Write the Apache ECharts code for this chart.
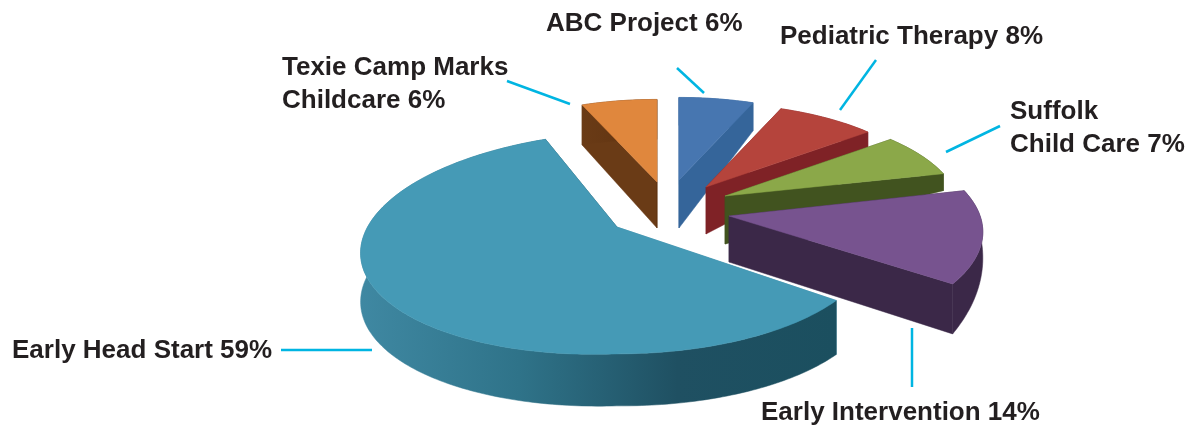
<!DOCTYPE html>
<html>
<head>
<meta charset="utf-8">
<style>html,body{margin:0;padding:0;background:#fff}#c{width:1202px;height:426px}</style>
<script src="https://cdn.jsdelivr.net/npm/echarts@6/dist/echarts.min.js"></script>
</head>
<body>
<div id="c"></div>
<script>
// Data, clockwise from the top of the pie
const categories = ['Texie Camp Marks\nChildcare', 'ABC Project', 'Pediatric Therapy', 'Suffolk\nChild Care', 'Early Intervention', 'Early Head Start'];
const values = [6, 6, 8, 7, 14, 59];

// Styling
const topColors = ['#E0873D', '#4776B0', '#B5443C', '#8BA849', '#77538F', '#459AB6'];
const wallColors = [['#6A3B16', '#5E3210'], ['#35659A', '#35659A'], ['#7F2226', '#7F2226'], ['#41531F', '#41531F'], ['#3B2848', '#3B2848'], ['#3F88A2', '#2F7389', '#1F5062', '#1B4F5F']];

// 3D projection settings
const center = [660, 205], rx = 259, ry = 112, perspective = 16, startAngle = -113;
const explodeX = [-3, 19, 46, 65, 69, -43];
const explodeY = [-23, -25, -18, -9, 11, 22];
const rotate = [0, 0, 0, 0, 0, 3];
const radiusScale = [0.88, 0.88, 0.89, 0.91, 0.98, 0.99];
const tilt = [0, 0, 0, 0, 0, -10];
const apexDepth = [46, 48, 47, 48, 46, 48];
const rimDepthStart = [40, 28, 18, 17, 6, 54];
const rimDepthEnd = [40, 28, 18, 17, 50, 46];

// Label layout: text anchor and leader line
const labelPos = [[282, 67], [546, 24], [780, 37], [1010, 111], [761, 413], [12, 351]];
const leaders = [[[507, 81], [570, 104]], [[677, 68], [704, 93]], [[876, 60], [840, 110]], [[1000, 126], [946, 152]], [[912, 328], [912, 387]], [[281, 350], [372, 350]]];
const labelFont = 'bold 26px "Liberation Sans", Arial, sans-serif';
const leaderColor = '#00B5E2';

const total = values.reduce((a, b) => a + b, 0);
const warp = t => t - 7 * Math.cos((t - 10) * Math.PI / 180);

function renderSlice(params, api) {
  const i = params.dataIndex;
  const value = api.value(0);
  let start = startAngle;
  for (let k = 0; k < i; k++) start += values[k] / total * 360;
  const end = start + value / total * 360;
  const apex = [center[0] + explodeX[i], center[1] + explodeY[i]];
  const rim = (deg, drop) => {
    const a = (warp(deg) + rotate[i]) * Math.PI / 180, s = radiusScale[i];
    return [apex[0] + s * rx * Math.cos(a),
            apex[1] + perspective + s * ry * Math.sin(a) + tilt[i] * Math.min(Math.cos(a), 0) + (drop || 0)];
  };
  const steps = Math.max(8, Math.ceil(end - start));
  const top = [], bottom = [];
  for (let s = 0; s <= steps; s++) {
    const f = s / steps, d = start + (end - start) * f;
    top.push(rim(d));
    bottom.push(rim(d, rimDepthStart[i] + (rimDepthEnd[i] - rimDepthStart[i]) * f));
  }
  const apexBottom = [apex[0], apex[1] + apexDepth[i]];
  const shades = wallColors[i];
  const wall = {type: 'linear', x: 0, y: 0, x2: 1, y2: 0,
    colorStops: shades.map((color, k) => ({offset: k / (shades.length - 1), color}))};
  const poly = (points, fill) => ({type: 'polygon', shape: {points}, style: {fill, stroke: fill, lineWidth: 0.5}});
  const multi = categories[i].indexOf('\n') >= 0;
  const children = [
    poly([apex, top[0], bottom[0], apexBottom], shades[0]),
    poly([apex, top[steps], bottom[steps], apexBottom], shades[shades.length - 1]),
    poly(top.concat(bottom.slice().reverse()), wall),
    poly([apex].concat(top), topColors[i]),
    {type: 'polyline', shape: {points: leaders[i]}, style: {stroke: leaderColor, lineWidth: 2.5, fill: null}},
    {type: 'text', style: {
      text: categories[i] + ' ' + value + '%', x: labelPos[i][0], y: labelPos[i][1] - (multi ? 16 : 0),
      font: labelFont, lineHeight: 33, fill: '#231F20', textAlign: 'left',
      textVerticalAlign: multi ? 'top' : 'middle'}}
  ];
  return {type: 'group', children};
}

const chart = echarts.init(document.getElementById('c'));
chart.setOption({
  animation: false,
  backgroundColor: '#fff',
  series: [{
    type: 'custom',
    coordinateSystem: 'none',
    silent: true,
    renderItem: renderSlice,
    data: values.map((v, i) => ({name: categories[i], value: [v]}))
  }]
});
</script>
</body>
</html>
